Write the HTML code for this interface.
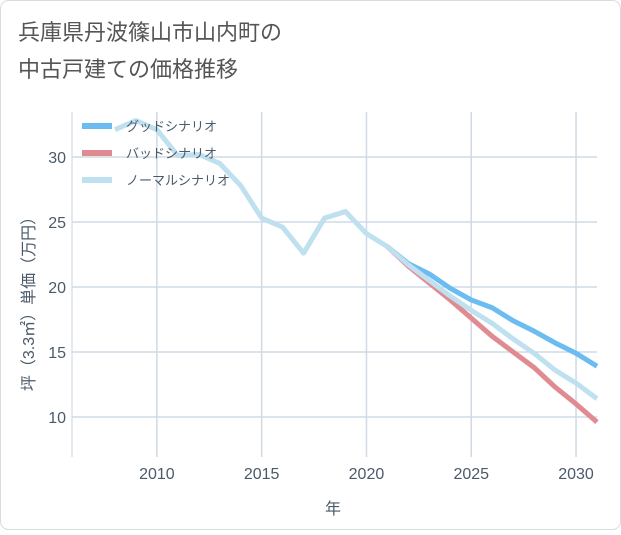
<!DOCTYPE html>
<html><head><meta charset="utf-8"><style>
body{margin:0;background:#fff;font-family:"Liberation Sans","Noto Sans CJK JP",sans-serif;}
#wrap{position:relative;width:621px;height:530px;}
</style></head><body>
<div id="wrap">
<svg id="svg" width="621" height="530" xmlns="http://www.w3.org/2000/svg">
<rect x="0.5" y="0.5" width="620" height="529" rx="8" fill="#fff" stroke="#dcdcdc"/>
<text x="18" y="40" font-size="22" fill="#555" font-family="Liberation Sans, Noto Sans CJK JP, sans-serif">兵庫県丹波篠山市山内町の</text>
<text x="18" y="77" font-size="22" fill="#555" font-family="Liberation Sans, Noto Sans CJK JP, sans-serif">中古戸建ての価格推移</text>
<g id="grid"></g><g id="lines"></g><g id="ticks"></g>
<text x="333" y="514" font-size="16" fill="#4a5a6a" text-anchor="middle" font-family="Liberation Sans, Noto Sans CJK JP, sans-serif">年</text>
<text transform="translate(34,300) rotate(-90)" font-size="16" fill="#4a5a6a" text-anchor="middle" font-family="Liberation Sans, Noto Sans CJK JP, sans-serif">坪（3.3㎡）単価（万円）</text>
<g id="legend"></g>
</svg>
</div>
<script>
const normalYears=[2008,2009,2010,2011,2012,2013,2014,2015,2016,2017,2018,2019,2020,2021,2022,2023,2024,2025,2026,2027,2028,2029,2030,2031];
const normalVals=[32.1,32.8,32.1,30.1,30.2,29.5,27.8,25.3,24.6,22.6,25.3,25.8,24.1,23.1,21.7,20.5,19.3,18.2,17.2,16.0,14.9,13.6,12.6,11.4];
const futureYears=[2021,2022,2023,2024,2025,2026,2027,2028,2029,2030,2031];
const goodVals=[23.1,21.8,21.0,19.9,19.0,18.4,17.4,16.6,15.7,14.9,13.9];
const badVals=[23.1,21.6,20.3,19.0,17.6,16.2,15.0,13.8,12.3,11.0,9.6];
const xTicks=[2010,2015,2020,2025,2030];
const yTicks=[10,15,20,25,30];
const L=72,R=597,T=112,B=457,x0=2005.95,x1=2031,y0=6.92,y1=33.46;
const X=v=>L+(v-x0)/(x1-x0)*(R-L);
const Y=v=>B-(v-y0)/(y1-y0)*(B-T);
const NS="http://www.w3.org/2000/svg";
function mk(tag,attrs,parent){const e=document.createElementNS(NS,tag);for(const k in attrs)e.setAttribute(k,attrs[k]);document.getElementById(parent).appendChild(e);return e;}
mk('line',{x1:L,x2:L,y1:T,y2:B,stroke:'#c8d4e0'},'grid');
xTicks.forEach(t=>{const l=mk('line',{x1:X(t),x2:X(t),y1:T,y2:B,stroke:'#cfdae6','stroke-width':1.5},'grid');


const tx=mk('text',{x:X(t),y:B+22,'font-size':16,fill:'#4a5a6a','text-anchor':'middle'},'ticks');tx.textContent=t;

});
yTicks.forEach(t=>{const l=mk('line',{x1:L,x2:R,y1:Y(t),y2:Y(t),stroke:'#cfdae6','stroke-width':1.5},'grid');


const tx=mk('text',{x:L-6,y:Y(t)+6,'font-size':16,fill:'#4a5a6a','text-anchor':'end'},'ticks');tx.textContent=t;

});
function line(xs,vs,color,name){const p=mk('polyline',{points:xs.map((x,i)=>X(x)+','+Y(vs[i])).join(' '),fill:'none',stroke:color,'stroke-width':5,'stroke-linejoin':'round'},'lines');

}
line(futureYears,goodVals,'#6bbcf0','good-scenario-line');
line(futureYears,badVals,'#e08a92','bad-scenario-line');
line(normalYears,normalVals,'#bfe0ee','normal-scenario-line');
[['グッドシナリオ','#6bbcf0','legend-good'],['バッドシナリオ','#e08a92','legend-bad'],['ノーマルシナリオ','#bfe0ee','legend-normal']].forEach((d,i)=>{
const y=126+i*27;
const r=mk('rect',{x:82,y:y-3,width:30,height:6,fill:d[1]},'legend');


const t=mk('text',{x:126,y:y+5,'font-size':13,fill:'#4a5a6a'},'legend');t.textContent=d[0];

});
</script>
</body></html>
